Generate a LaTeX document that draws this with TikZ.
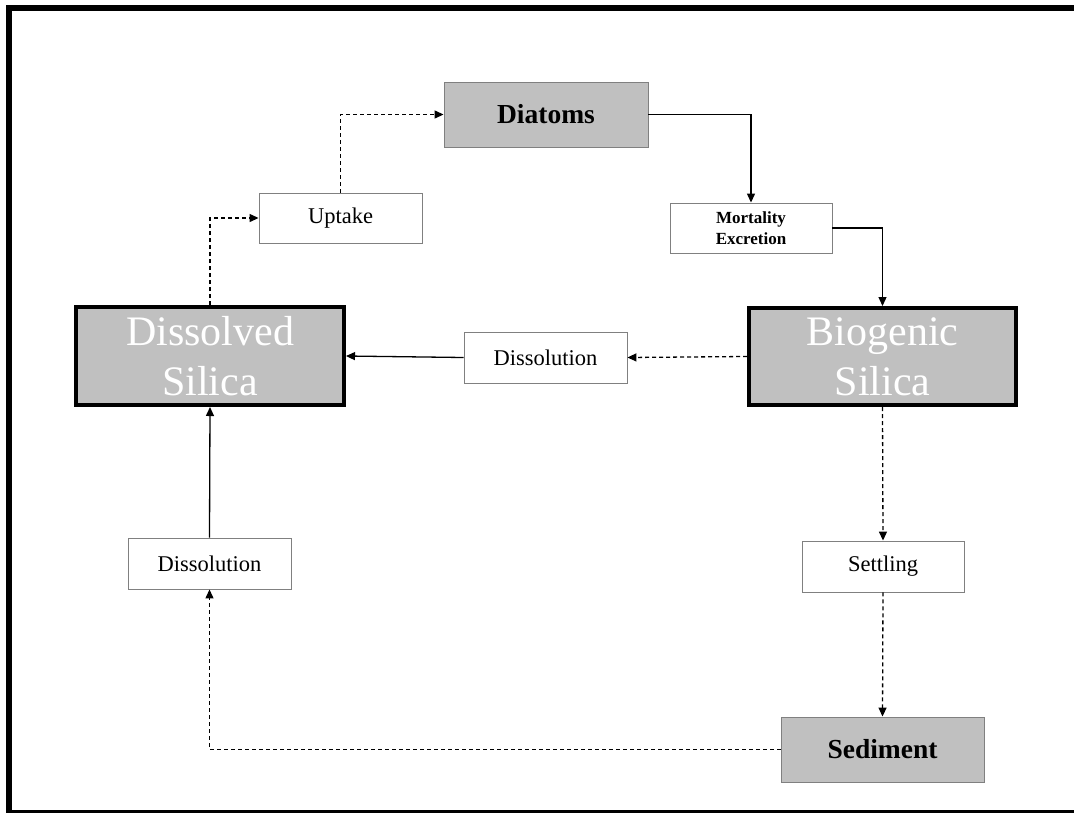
\documentclass[tikz,border=0pt]{standalone}
\usepackage{fontspec}
\setmainfont{Liberation Serif}
\usetikzlibrary{arrows.meta}
\definecolor{boxgray}{RGB}{192,192,192}
\definecolor{edgegray}{RGB}{128,128,128}
\tikzset{
  smallbox/.style={draw=edgegray, line width=0.9pt, fill=white, inner sep=0pt,
    align=center, font=\fontsize{22.5}{26}\selectfont},
  graybox/.style={draw=edgegray, line width=0.9pt, fill=boxgray, inner sep=0pt,
    align=center, font=\bfseries\fontsize{27.5}{30}\selectfont},
  poolbox/.style={draw=black, line width=4pt, fill=boxgray, inner sep=0pt,
    align=center, text=white, font=\fontsize{42}{50}\selectfont},
  flow/.style={line width=1.3pt, -{Triangle[length=9pt,width=8pt]}},
  flowdash/.style={flow, dash pattern=on 4pt off 3pt}
}
\begin{document}
\begin{tikzpicture}[x=1pt,y=-1pt]
\useasboundingbox (0,0) rectangle (1074,812);
% frame
\draw[line width=6pt] (9,8) rectangle (1085,813);

% nodes
\node[graybox, minimum width=204pt, minimum height=65pt] (diatoms) at (546,114.5) {Diatoms};
\node[smallbox, minimum width=163pt, minimum height=50pt] (uptake) at (340.5,218) {Uptake};
\node[smallbox, minimum width=162pt, minimum height=50pt,
      font=\bfseries\fontsize{17}{21}\selectfont] (mort) at (751,228) {Mortality\\Excretion};
\node[poolbox, minimum width=268pt, minimum height=98pt] (dsi) at (210,356) {Dissolved\\Silica};
\node[poolbox, minimum width=267pt, minimum height=97pt] (bsi) at (882.5,356.5) {Biogenic\\Silica};
\node[smallbox, minimum width=163pt, minimum height=51pt] (dissm) at (545.5,357.5) {Dissolution};
\node[smallbox, minimum width=163pt, minimum height=51pt] (dissl) at (209.5,563.5) {Dissolution};
\node[smallbox, minimum width=162pt, minimum height=51pt] (settle) at (883,566.5) {Settling};
\node[graybox, minimum width=203pt, minimum height=65pt] (sed) at (882.5,749.5) {Sediment};

% connectors
\draw[flowdash] (dsi.north) |- (uptake.west);
\draw[flowdash] (uptake.north) |- (diatoms.west);
\draw[flow] (diatoms.east) -| (mort.north);
\draw[flow] (mort.east) -| (bsi.north);
\draw[flowdash] (bsi.west) -- (dissm.east);
\draw[flow] (dissm.west) -- (dsi.east);
\draw[flowdash] (bsi.south) -- (settle.north);
\draw[flowdash] (settle.south) -- (sed.north);
\draw[flowdash] (sed.west) -| (dissl.south);
\draw[flow] (dissl.north) -- (dsi.south);
\end{tikzpicture}
\end{document}
